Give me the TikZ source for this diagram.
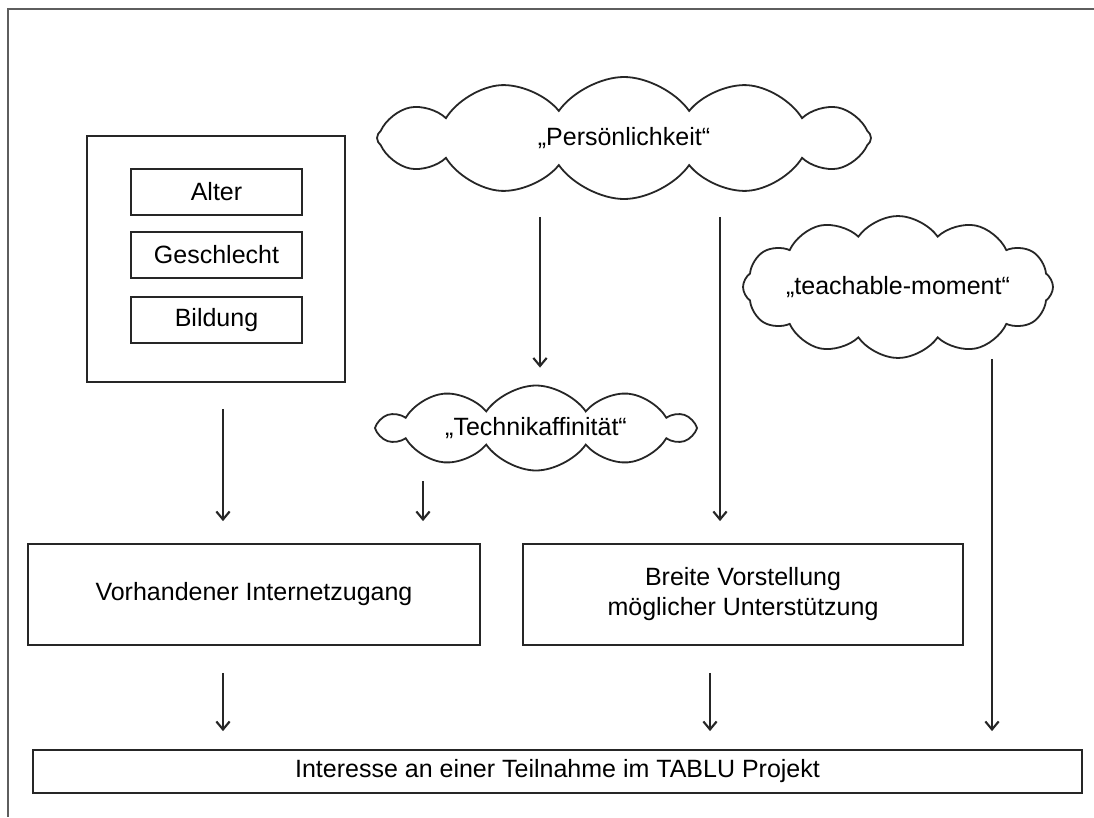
\documentclass[tikz,border=0pt]{standalone}
\usepackage{fontspec}
\setmainfont{Liberation Sans}
\usetikzlibrary{arrows.meta, shapes.symbols}
\definecolor{ink}{HTML}{262626}
\definecolor{rahmen}{HTML}{5E5E5E}

\begin{document}
\begin{tikzpicture}[x=0.75pt,y=-0.75pt, font=\fontsize{18.75}{22.5}\selectfont,
  box/.style={draw=ink, line width=1.35pt, inner sep=0pt, align=center},
  wolke/.style={cloud, cloud puffs=#1, cloud puff arc=110, cloud ignores aspect, draw=ink, line width=1.35pt, inner sep=0pt},
  pfeil/.style={-{Straight Barb[length=6pt,width=10pt]}, line width=1.6pt, color=ink}]
\useasboundingbox (0,0) rectangle (1094,817);
\draw[rahmen, line width=1.8pt] (1094,9) -- (8,9) -- (8,817);

% soziodemografische Merkmale
\node[box, minimum width=193.5pt, minimum height=184.5pt] (demo) at (216,259) {};
\node[box, minimum width=128.25pt, minimum height=34.5pt] (alter) at (216.5,192) {Alter};
\node[box, minimum width=128.25pt, minimum height=34.5pt] (geschl) at (216.5,255) {Geschlecht};
\node[box, minimum width=128.25pt, minimum height=34.5pt] (bildung) at (216.5,320) {Bildung};

% Wolken
\node[wolke=12, minimum width=370.5pt, minimum height=91.5pt] (pers) at (624,138) {„Persönlichkeit“};
\node[wolke=12, minimum width=232.5pt, minimum height=106.5pt] (teach) at (898,287) {„teachable-moment“};
\node[wolke=10, minimum width=234pt, minimum height=63.75pt] (tech) at (536,428) {„Technikaffinität“};

% mittlere Ebene
\node[box, minimum width=339pt, minimum height=75.75pt] (inet) at (254,594.5) {Vorhandener Internetzugang};
\node[box, minimum width=330pt, minimum height=75.75pt] (vorst) at (743,594.5) {Breite Vorstellung\\möglicher Unterstützung};

% Ziel
\node[box, minimum width=786.75pt, minimum height=32.25pt] (ziel) at (557.5,771.5) {Interesse an einer Teilnahme im TABLU Projekt};

% Spalten der Pfeile
\coordinate (s1) at (223,0);
\coordinate (s2) at (540,0);
\coordinate (s3) at (423,0);
\coordinate (s4) at (720,0);
\coordinate (s5) at (992,0);
\coordinate (s6) at (710,0);

\draw[pfeil, shorten <=19.5pt, shorten >=16.5pt] (demo.south -| s1) -- (inet.north -| s1);
\draw[pfeil, shorten <=12.75pt, shorten >=12.75pt] (pers.south -| s2) -- (tech.north -| s2);
\draw[pfeil, shorten <=7.5pt, shorten >=16.5pt] (tech.south -| s3) -- (inet.north -| s3);
\draw[pfeil, shorten <=12.75pt, shorten >=16.5pt] (pers.south -| s4) -- (vorst.north -| s4);
\draw[pfeil, shorten <=0pt, shorten >=13.5pt] (teach.south -| s5) -- (ziel.north -| s5);
\draw[pfeil, shorten <=20.25pt, shorten >=13.5pt] (inet.south -| s1) -- (ziel.north -| s1);
\draw[pfeil, shorten <=20.25pt, shorten >=13.5pt] (vorst.south -| s6) -- (ziel.north -| s6);
\end{tikzpicture}
\end{document}
